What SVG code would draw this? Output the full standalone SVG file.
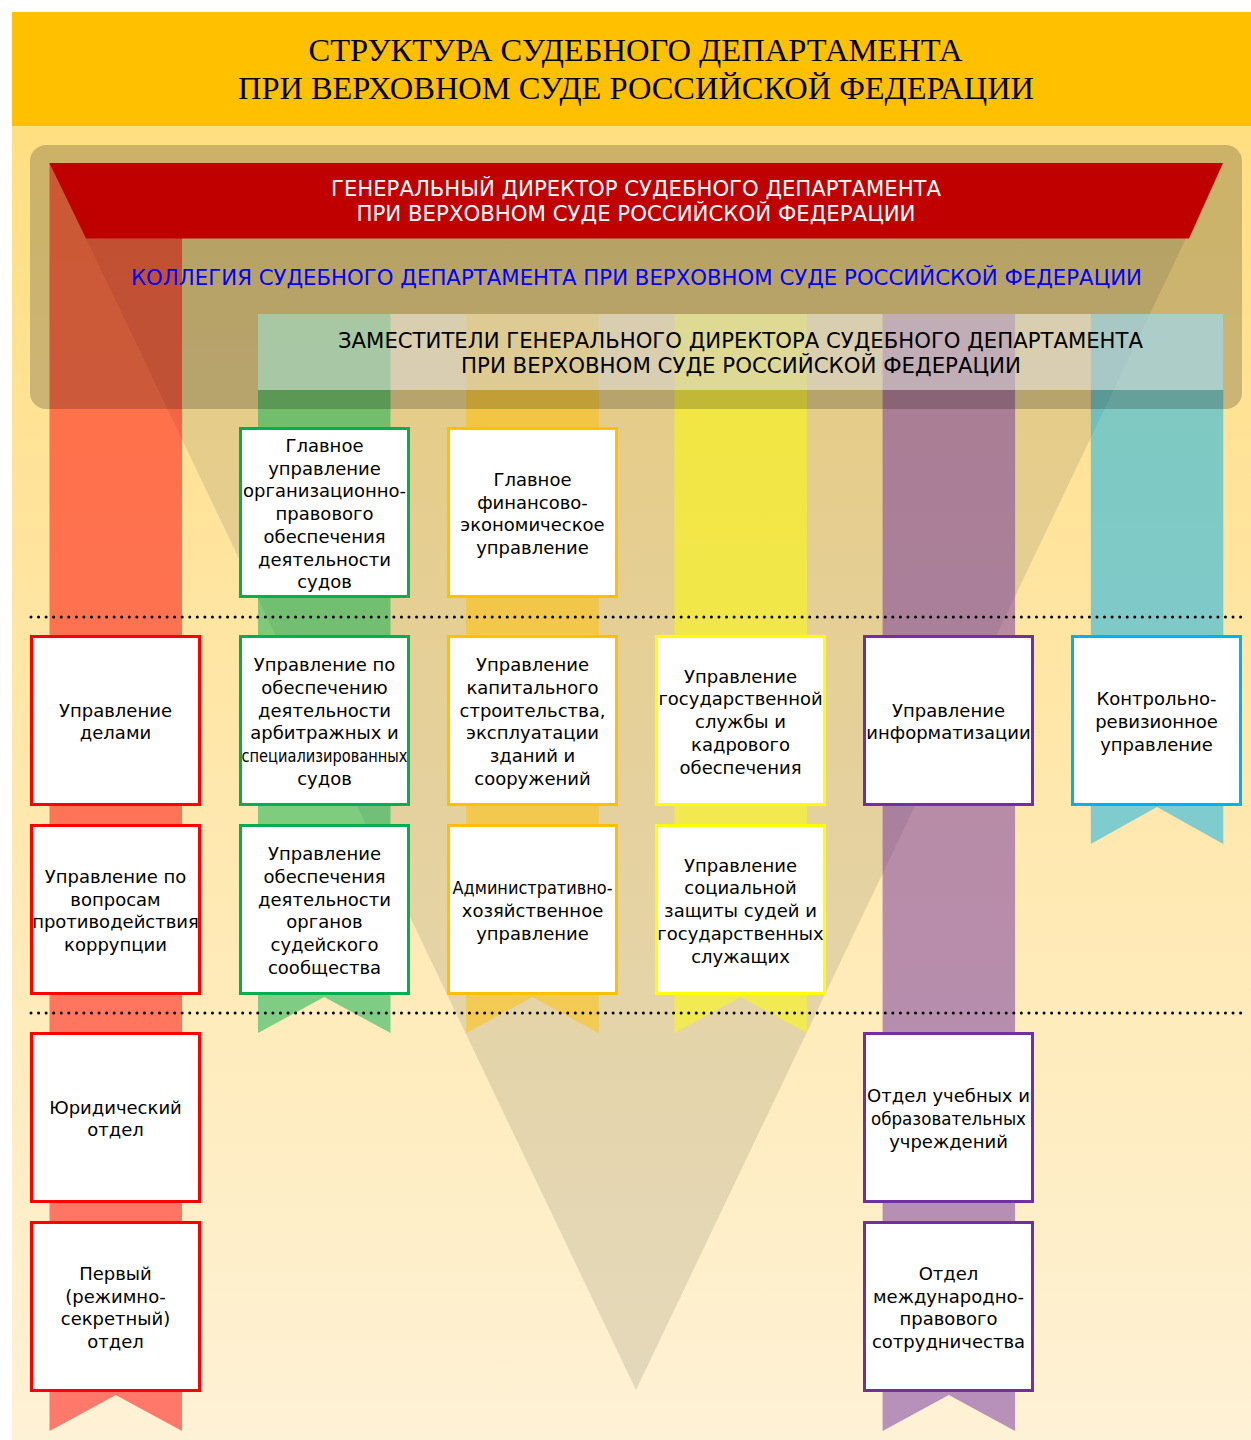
<svg xmlns="http://www.w3.org/2000/svg" width="1251" height="1440" viewBox="0 0 1251 1440">
<defs>
<linearGradient id="bg" x1="0" y1="126" x2="0" y2="1440" gradientUnits="userSpaceOnUse">
<stop offset="0" stop-color="#FFDF80"/>
<stop offset="0.28" stop-color="#FFE39A"/>
<stop offset="1" stop-color="#FEF2D6"/>
</linearGradient>
</defs>
<style>
.box{fill:#fff;stroke-width:3}
.t{font-family:"DejaVu Sans",Verdana,sans-serif;font-size:18px;fill:#000;text-anchor:middle}
.h{font-family:"DejaVu Sans",Verdana,sans-serif;font-size:21px;text-anchor:middle}
.title{font-family:"Liberation Serif","Times New Roman",serif;font-size:32px;fill:#000;text-anchor:middle}
.rib{opacity:0.5}
.dots{stroke:#000;stroke-width:3;stroke-dasharray:0 7.56;stroke-linecap:round;fill:none}
</style>
<rect x="0" y="0" width="1251" height="1440" fill="#fff"/>
<rect x="12" y="126" width="1239" height="1314" fill="url(#bg)"/>
<g id="header">
<rect x="12" y="12" width="1239" height="114" fill="#FFC000"/>
<text class="title" x="635.5" y="61" textLength="654" lengthAdjust="spacingAndGlyphs">СТРУКТУРА СУДЕБНОГО ДЕПАРТАМЕНТА</text>
<text class="title" x="636" y="99" textLength="796" lengthAdjust="spacingAndGlyphs">ПРИ ВЕРХОВНОМ СУДЕ РОССИЙСКОЙ ФЕДЕРАЦИИ</text>
</g>
<polygon id="funnel" points="50,163 1222,163 636,1390" fill="#7D795E" opacity="0.2"/>
<g id="connectors">
<polygon class="rib" fill="#FF0000" points="49.5,163 182,163 182,1431 115.75,1395 49.5,1431"/>
<polygon class="rib" fill="#00B050" points="258,314 390.5,314 390.5,1033 324.25,997 258,1033"/>
<polygon class="rib" fill="#FFC000" points="466.2,314 598.7,314 598.7,1033 532.45,997 466.2,1033"/>
<polygon class="rib" fill="#FFFF00" points="674.4,314 806.9,314 806.9,1033 740.65,997 674.4,1033"/>
<polygon class="rib" fill="#7030A0" points="882.6,314 1015.1,314 1015.1,1431 948.85,1395 882.6,1431"/>
<polygon class="rib" fill="#00B0F0" points="1090.8,314 1223.3,314 1223.3,844 1157.05,807 1090.8,844"/>
<line class="dots" x1="31" y1="617" x2="1242" y2="617"/>
<line class="dots" x1="31" y1="1013" x2="1242" y2="1013"/>
</g>
<rect x="30" y="145" width="1212" height="264" rx="16" fill="#000" opacity="0.2"/>
<rect x="258" y="314" width="965.3" height="76" fill="#fff" opacity="0.47"/>
<g id="director">
<polygon points="49.5,163 1223,163 1189,238.5 86,238.5" fill="#C00000"/>
<text class="h" fill="#fff" x="636" y="196" textLength="610" lengthAdjust="spacingAndGlyphs">ГЕНЕРАЛЬНЫЙ ДИРЕКТОР СУДЕБНОГО ДЕПАРТАМЕНТА</text>
<text class="h" fill="#fff" x="636" y="221" textLength="559" lengthAdjust="spacingAndGlyphs">ПРИ ВЕРХОВНОМ СУДЕ РОССИЙСКОЙ ФЕДЕРАЦИИ</text>
</g>
<g id="collegium">
<text class="h" fill="#0000FF" x="636.5" y="285" textLength="1011" lengthAdjust="spacingAndGlyphs">КОЛЛЕГИЯ СУДЕБНОГО ДЕПАРТАМЕНТА ПРИ ВЕРХОВНОМ СУДЕ РОССИЙСКОЙ ФЕДЕРАЦИИ</text>
</g>
<g id="deputies">
<text class="h" fill="#000" x="740.5" y="348" textLength="805" lengthAdjust="spacingAndGlyphs">ЗАМЕСТИТЕЛИ ГЕНЕРАЛЬНОГО ДИРЕКТОРА СУДЕБНОГО ДЕПАРТАМЕНТА</text>
<text class="h" fill="#000" x="741" y="373" textLength="560" lengthAdjust="spacingAndGlyphs">ПРИ ВЕРХОВНОМ СУДЕ РОССИЙСКОЙ ФЕДЕРАЦИИ</text>
</g>

<g id="n-delami">
<rect class="box" stroke="#FF0000" x="31.5" y="636.5" width="168" height="168"/>
<text class="t" x="115.5" y="716.6">Управление</text>
<text class="t" x="115.5" y="739.4">делами</text>
</g>
<g id="n-korrupcia">
<rect class="box" stroke="#FF0000" x="31.5" y="825.5" width="168" height="168"/>
<text class="t" x="115.5" y="882.9">Управление по</text>
<text class="t" x="115.5" y="905.6">вопросам</text>
<text class="t" x="115.5" y="928.4">противодействия</text>
<text class="t" x="115.5" y="951.1">коррупции</text>
</g>
<g id="n-yurid">
<rect class="box" stroke="#FF0000" x="31.5" y="1033.5" width="168" height="168"/>
<text class="t" x="115.5" y="1113.6">Юридический</text>
<text class="t" x="115.5" y="1136.4">отдел</text>
</g>
<g id="n-pervyi">
<rect class="box" stroke="#FF0000" x="31.5" y="1222.5" width="168" height="168"/>
<text class="t" x="115.5" y="1279.9">Первый</text>
<text class="t" x="115.5" y="1302.6">(режимно-</text>
<text class="t" x="115.5" y="1325.4">секретный)</text>
<text class="t" x="115.5" y="1348.1">отдел</text>
</g>

<g id="n-orgprav">
<rect class="box" stroke="#00B050" x="240.5" y="428.5" width="168" height="168"/>
<text class="t" x="324.5" y="451.8">Главное</text>
<text class="t" x="324.5" y="474.5">управление</text>
<text class="t" x="324.5" y="497.3">организационно-</text>
<text class="t" x="324.5" y="520">правового</text>
<text class="t" x="324.5" y="542.8">обеспечения</text>
<text class="t" x="324.5" y="565.5">деятельности</text>
<text class="t" x="324.5" y="588.3">судов</text>
</g>
<g id="n-arbitr">
<rect class="box" stroke="#00B050" x="240.5" y="636.5" width="168" height="168"/>
<text class="t" x="324.5" y="671.1">Управление по</text>
<text class="t" x="324.5" y="693.9">обеспечению</text>
<text class="t" x="324.5" y="716.6">деятельности</text>
<text class="t" x="324.5" y="739.4">арбитражных и</text>
<text class="t" x="324.5" y="762.1" textLength="166" lengthAdjust="spacingAndGlyphs">специализированных</text>
<text class="t" x="324.5" y="784.9">судов</text>
</g>
<g id="n-soobshestvo">
<rect class="box" stroke="#00B050" x="240.5" y="825.5" width="168" height="168"/>
<text class="t" x="324.5" y="860.1">Управление</text>
<text class="t" x="324.5" y="882.9">обеспечения</text>
<text class="t" x="324.5" y="905.6">деятельности</text>
<text class="t" x="324.5" y="928.4">органов</text>
<text class="t" x="324.5" y="951.1">судейского</text>
<text class="t" x="324.5" y="973.9">сообщества</text>
</g>

<g id="n-finans">
<rect class="box" stroke="#FFC000" x="448.5" y="428.5" width="168" height="168"/>
<text class="t" x="532.5" y="485.9">Главное</text>
<text class="t" x="532.5" y="508.6">финансово-</text>
<text class="t" x="532.5" y="531.4">экономическое</text>
<text class="t" x="532.5" y="554.1">управление</text>
</g>
<g id="n-kapstroy">
<rect class="box" stroke="#FFC000" x="448.5" y="636.5" width="168" height="168"/>
<text class="t" x="532.5" y="671.1">Управление</text>
<text class="t" x="532.5" y="693.9">капитального</text>
<text class="t" x="532.5" y="716.6">строительства,</text>
<text class="t" x="532.5" y="739.4">эксплуатации</text>
<text class="t" x="532.5" y="762.1">зданий и</text>
<text class="t" x="532.5" y="784.9">сооружений</text>
</g>
<g id="n-ahu">
<rect class="box" stroke="#FFC000" x="448.5" y="825.5" width="168" height="168"/>
<text class="t" x="532.5" y="894.3" textLength="160" lengthAdjust="spacingAndGlyphs">Административно-</text>
<text class="t" x="532.5" y="917">хозяйственное</text>
<text class="t" x="532.5" y="939.8">управление</text>
</g>

<g id="n-kadry">
<rect class="box" stroke="#FFFF00" x="656.5" y="636.5" width="168" height="168"/>
<text class="t" x="740.5" y="682.5">Управление</text>
<text class="t" x="740.5" y="705.3">государственной</text>
<text class="t" x="740.5" y="728">службы и</text>
<text class="t" x="740.5" y="750.8">кадрового</text>
<text class="t" x="740.5" y="773.5">обеспечения</text>
</g>
<g id="n-soczashita">
<rect class="box" stroke="#FFFF00" x="656.5" y="825.5" width="168" height="168"/>
<text class="t" x="740.5" y="871.5">Управление</text>
<text class="t" x="740.5" y="894.3">социальной</text>
<text class="t" x="740.5" y="917">защиты судей и</text>
<text class="t" x="740.5" y="939.8">государственных</text>
<text class="t" x="740.5" y="962.5">служащих</text>
</g>

<g id="n-inform">
<rect class="box" stroke="#7030A0" x="864.5" y="636.5" width="168" height="168"/>
<text class="t" x="948.5" y="716.6">Управление</text>
<text class="t" x="948.5" y="739.4">информатизации</text>
</g>
<g id="n-ucheb">
<rect class="box" stroke="#7030A0" x="864.5" y="1033.5" width="168" height="168"/>
<text class="t" x="948.5" y="1102.3">Отдел учебных и</text>
<text class="t" x="948.5" y="1125" textLength="155" lengthAdjust="spacingAndGlyphs">образовательных</text>
<text class="t" x="948.5" y="1147.8">учреждений</text>
</g>
<g id="n-mezhdunar">
<rect class="box" stroke="#7030A0" x="864.5" y="1222.5" width="168" height="168"/>
<text class="t" x="948.5" y="1279.9">Отдел</text>
<text class="t" x="948.5" y="1302.6">международно-</text>
<text class="t" x="948.5" y="1325.4">правового</text>
<text class="t" x="948.5" y="1348.1">сотрудничества</text>
</g>

<g id="n-kru">
<rect class="box" stroke="#00B0F0" x="1072.5" y="636.5" width="168" height="168"/>
<text class="t" x="1156.5" y="705.3">Контрольно-</text>
<text class="t" x="1156.5" y="728">ревизионное</text>
<text class="t" x="1156.5" y="750.8">управление</text>
</g>
</svg>
